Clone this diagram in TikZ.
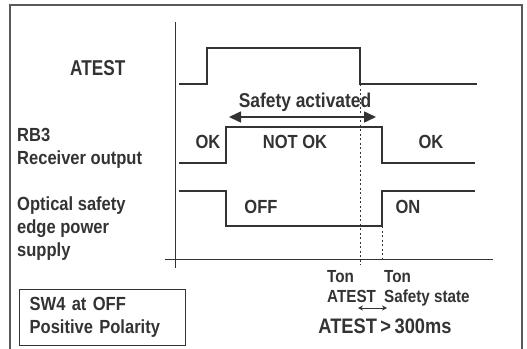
\documentclass[tikz,border=0pt]{standalone}
\usepackage{fontspec}
\setmainfont{Liberation Sans}[FakeStretch=0.87]
\newfontfamily\headfont{Liberation Sans}[FakeStretch=0.8]
\usetikzlibrary{arrows.meta,positioning}
\colorlet{ink}{black!80}
\colorlet{frameInk}{black!65}
\tikzset{
  lbl/.style={inner sep=0pt,text=ink,font=\fontsize{19}{23}\selectfont\bfseries},
  smalllbl/.style={lbl,font=\fontsize{17.5}{21}\selectfont\bfseries},
  wave/.style={draw=ink,line width=1.1pt},
  marker/.style={draw=ink,line width=1pt,dash pattern=on 2pt off 2.5pt}
}

\begin{document}
\begin{tikzpicture}[
  x=1pt,y=-1pt,
  frame/.style={draw=frameInk,line width=1.3pt},
  axis/.style={draw=ink,line width=1pt},
  span/.style={draw=ink,line width=1.5pt,{Triangle[length=12pt,width=11pt]}-{Triangle[length=12pt,width=11pt]}},
  gap/.style={draw=ink,line width=0.9pt,{Stealth[length=5pt,width=5pt]}-{Stealth[length=5pt,width=5pt]}}
]
\useasboundingbox (0,0) rectangle (527,348);
\draw[frame] (10,360) |- (522,5) -- (522,360);

% axes
\coordinate (yTop) at (175,22);
\coordinate (yFoot) at (175,268);
\coordinate (xWest) at (165,259);
\coordinate (xEast) at (493,259);
\draw[axis] (yTop) -- (yFoot) (xWest) -- (xEast);

% edges in time
\coordinate (atestOn) at (207,0);
\coordinate (atestOff) at (360,0);
\coordinate (rbOn) at (226,0);
\coordinate (rbOff) at (382,0);

% waveforms
\draw[wave] (179,84) -| (atestOn |- 0,48) -| (atestOff |- 0,84) -- (477,84);
\draw[wave] (179,163) -| (rbOn |- 0,127) -| (rbOff |- 0,163) -- (475,163);
\draw[wave] (179,191) -| (rbOn |- 0,226) -| (rbOff |- 0,191) -- (475,191);

% time markers
\coordinate (mA1) at (atestOff |- 0,84);
\coordinate (mA2) at (atestOff |- 0,265);
\coordinate (mS1) at (rbOff |- 0,226);
\coordinate (mS2) at (rbOff |- 0,261);
\draw[marker] (mA1) -- (mA2);
\draw[marker] (mS1) -- (mS2);

% signal names
\node (atestName) [lbl,anchor=base west,font=\fontsize{21.5}{24}\headfont\bfseries] at (70,75) {ATEST};
\node (rbName) [lbl,anchor=base west] at (17,141) {RB3};
\node (rbName2) [lbl,anchor=base west] at (17,164) {Receiver output};
\node (edgeName) [lbl,anchor=base west] at (17,210) {Optical safety};
\node (edgeName2) [lbl,anchor=base west] at (17,233) {edge power};
\node (edgeName3) [lbl,anchor=base west] at (17,256) {supply};

% states
\node (okBefore) [lbl,anchor=base] at (208,148) {OK};
\node (notOk) [lbl,anchor=base] at (295,148) {NOT OK};
\node (okAfter) [lbl,anchor=base] at (431,148) {OK};
\node (off) [lbl,anchor=base] at (261,213) {OFF};
\node (on) [lbl,anchor=base] at (408,213) {ON};

% safety activated
\node (safety) [lbl,anchor=base,font=\fontsize{20}{23}\selectfont\bfseries] at (305,107) {Safety activated};
\coordinate (sL) at (229,117);
\coordinate (sR) at (376,117);
\draw[span] (sL) -- (sR);

% timing notes
\node (tonA) [smalllbl,anchor=base west] at (327,282) {Ton};
\node (tonS) [smalllbl,anchor=base west] at (384,282) {Ton};
\node (tonA2) [smalllbl,anchor=base west] at (327,302) {ATEST};
\node (tonS2) [smalllbl,anchor=base west] at (384,302) {Safety state};
\coordinate (gL) at (358,308);
\coordinate (gR) at (387,308);
\draw[gap] (gL) -- (gR);
\node (limit) [lbl,anchor=base,font=\fontsize{21}{24}\selectfont\bfseries] at (385,333) {ATEST{\,}>{\,}300ms};

% mode box
\node (mode) [lbl,draw=ink,line width=1.3pt,anchor=north west,align=left,
  text width=146pt,inner xsep=10pt,minimum height=56pt] at (19,289)
  {SW4 at OFF\\Positive Polarity};
\end{tikzpicture}
\end{document}
